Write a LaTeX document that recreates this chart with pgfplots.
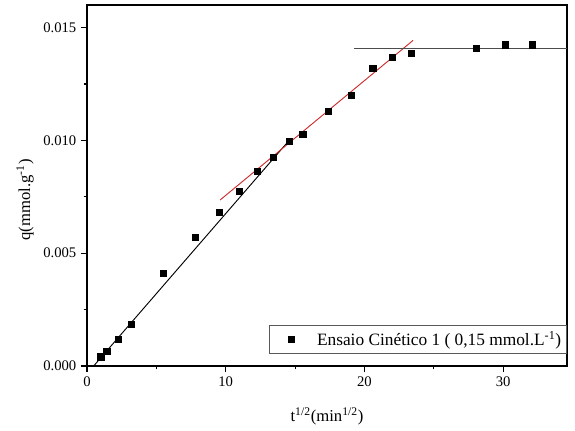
\documentclass[border=0pt]{standalone}
\usepackage{fontspec}
\setmainfont{Liberation Serif}
\usepackage{pgfplots}
\pgfplotsset{compat=1.18}
\definecolor{fitred}{RGB}{205,45,45}
\pgfplotsset{widemark legend/.style={legend image code/.code={\path (0pt,0pt) (31pt,0pt); \draw[mark repeat=2,mark phase=2,##1] plot coordinates {(0pt,0pt) (14pt,0pt) (28pt,0pt)};}}}
\begin{document}
\begin{tikzpicture}
\path[use as bounding box] (0,0) rectangle (431.25pt,322.5pt);
\begin{axis}[
  at={(65.25pt,48pt)}, anchor=south west,
  scale only axis, width=360pt, height=270.75pt,
  xmin=0, xmax=34.6, ymin=0, ymax=0.016,
  axis line style={line width=0.9pt},
  xtick={0,10,20,30}, minor xtick={5,15,25},
  ytick={0,0.005,0.010,0.015}, minor ytick={0.0025,0.0075,0.0125},
  tick pos=left, tick align=outside,
  major tick length=4.5pt, minor tick length=2.5pt,
  tick style={black, line width=0.8pt},
  scaled y ticks=false,
  yticklabel style={/pgf/number format/.cd, fixed, fixed zerofill, precision=3},
  /pgf/number format/assume math mode=true,
  tick label style={font=\fontsize{11}{13}\selectfont},
  xlabel={t\textsuperscript{1/2}(min\textsuperscript{1/2})},
  ylabel={q(mmol.g\textsuperscript{-1})},
  label style={font=\fontsize{12.5}{14}\selectfont},
  xlabel style={at={(axis description cs:0.5,-0.14)}, anchor=center},
  ylabel style={at={(axis description cs:-0.129,0.46)}, anchor=center, rotate=0},
  legend style={at={(1,0.033)}, anchor=south east, draw=black!65, line width=0.6pt,
    font=\fontsize{13}{15}\selectfont, inner xsep=2pt, inner ysep=2.5pt},
  legend cell align=left,
  clip=true,
]
\addplot[only marks, mark=square*, mark size=2.3pt, black, widemark legend] coordinates {
(0.99,0.00041) (1.42,0.00067) (2.26,0.00120) (3.20,0.00185) (5.49,0.00412)
(7.78,0.00570) (9.53,0.00683) (10.97,0.00776) (12.25,0.00862) (13.45,0.00926)
(14.56,0.00997) (15.55,0.01029) (17.42,0.01130) (19.06,0.01199) (20.60,0.01319)
(22.02,0.01370) (23.35,0.01387) (28.06,0.01410) (30.16,0.01424) (32.08,0.01424)
};
\addlegendentry{Ensaio Cinético 1 ( 0,15 mmol.L\textsuperscript{-1})}
\addplot[forget plot, black, line width=0.7pt] coordinates {(0.48,0) (14.6,0.01002)};
\addplot[forget plot, fitred, line width=0.7pt] coordinates {(9.6,0.00736) (23.5,0.01443)};
\addplot[forget plot, black!70, line width=0.7pt] coordinates {(19.28,0.01406) (34.6,0.01406)};
\end{axis}
\end{tikzpicture}
\end{document}
